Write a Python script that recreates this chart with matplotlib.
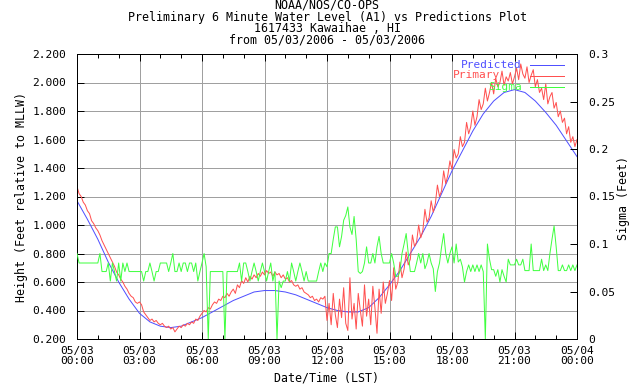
import matplotlib
matplotlib.use("Agg")
import matplotlib.pyplot as plt
import matplotlib.dates as mdates
from matplotlib.lines import Line2D
import numpy as np
import pandas as pd

# === Data ===
start = "2006-05-03 00:00"

# predicted tide, every 30 minutes (feet, MLLW)
predicted = [1.17, 1.04, 0.90, 0.74, 0.60, 0.48, 0.38, 0.32, 0.29, 0.28,
             0.29, 0.32, 0.35, 0.39, 0.43, 0.47, 0.50, 0.53, 0.54, 0.54,
             0.53, 0.51, 0.48, 0.45, 0.42, 0.40, 0.39, 0.39, 0.42, 0.49,
             0.58, 0.68, 0.80, 0.92, 1.06, 1.22, 1.38, 1.52, 1.66, 1.78,
             1.87, 1.93, 1.95, 1.93, 1.87, 1.79, 1.70, 1.59, 1.48]

# preliminary 6 minute water level (A1), one row per hour
primary = [
    1.27, 1.22, 1.20, 1.16, 1.14, 1.10, 1.08, 1.03, 1.01, 0.98,
    0.96, 0.93, 0.89, 0.86, 0.83, 0.80, 0.77, 0.74, 0.71, 0.67,
    0.65, 0.62, 0.60, 0.57, 0.55, 0.52, 0.50, 0.49, 0.46, 0.45,
    0.46, 0.44, 0.39, 0.37, 0.35, 0.33, 0.34, 0.32, 0.33, 0.31,
    0.30, 0.31, 0.29, 0.28, 0.29, 0.27, 0.28, 0.25, 0.27, 0.29,
    0.28, 0.30, 0.29, 0.31, 0.30, 0.32, 0.31, 0.34, 0.33, 0.36,
    0.38, 0.40, 0.39, 0.42, 0.41, 0.44, 0.46, 0.45, 0.48, 0.47,
    0.50, 0.49, 0.52, 0.50, 0.53, 0.55, 0.52, 0.58, 0.56, 0.61,
    0.59, 0.63, 0.60, 0.64, 0.62, 0.65, 0.63, 0.66, 0.64, 0.67,
    0.65, 0.68, 0.66, 0.67, 0.64, 0.67, 0.65, 0.66, 0.63, 0.65,
    0.62, 0.63, 0.60, 0.61, 0.58, 0.57, 0.58, 0.55, 0.56, 0.53,
    0.52, 0.51, 0.49, 0.50, 0.47, 0.48, 0.46, 0.49, 0.48, 0.50,
    0.33, 0.45, 0.30, 0.52, 0.37, 0.28, 0.48, 0.35, 0.56, 0.31,
    0.26, 0.63, 0.34, 0.45, 0.27, 0.52, 0.40, 0.29, 0.58, 0.36,
    0.48, 0.30, 0.57, 0.42, 0.24, 0.55, 0.38, 0.60, 0.45, 0.52,
    0.61, 0.47, 0.70, 0.55, 0.60, 0.74, 0.63, 0.69, 0.81, 0.72,
    0.76, 0.93, 0.85, 0.88, 1.00, 0.91, 0.96, 1.11, 1.02, 1.05,
    1.17, 1.09, 1.15, 1.28, 1.20, 1.24, 1.38, 1.29, 1.35, 1.45,
    1.39, 1.53, 1.47, 1.50, 1.62, 1.55, 1.58, 1.72, 1.64, 1.69,
    1.80, 1.70, 1.76, 1.88, 1.81, 1.85, 1.96, 1.87, 1.93, 2.00,
    1.92, 2.03, 1.97, 2.00, 2.08, 1.98, 2.04, 2.01, 2.07, 1.99,
    2.04, 2.10, 2.02, 2.13, 2.06, 2.03, 2.11, 2.00, 2.05, 2.09,
    1.97, 2.02, 1.93, 1.96, 1.88, 1.99, 1.85, 1.90, 1.93, 1.82,
    1.86, 1.76, 1.80, 1.72, 1.75, 1.64, 1.69, 1.58, 1.62, 1.55,
    1.60]

# sigma of the 6 minute samples (feet), one row per hour
sigma = [
    0.090, 0.080, 0.080, 0.080, 0.080, 0.080, 0.080, 0.080, 0.080, 0.080,
    0.080, 0.090, 0.071, 0.071, 0.071, 0.080, 0.061, 0.080, 0.071, 0.061,
    0.080, 0.061, 0.080, 0.071, 0.080, 0.071, 0.071, 0.071, 0.071, 0.071,
    0.071, 0.071, 0.061, 0.071, 0.071, 0.080, 0.071, 0.061, 0.071, 0.071,
    0.080, 0.080, 0.080, 0.080, 0.071, 0.080, 0.090, 0.071, 0.071, 0.080,
    0.071, 0.080, 0.080, 0.071, 0.080, 0.080, 0.071, 0.080, 0.061, 0.071,
    0.080, 0.090, 0.076, 0.000, 0.071, 0.071, 0.071, 0.071, 0.071, 0.071,
    0.071, 0.000, 0.071, 0.071, 0.071, 0.071, 0.071, 0.071, 0.080, 0.061,
    0.080, 0.080, 0.071, 0.061, 0.071, 0.080, 0.071, 0.061, 0.071, 0.080,
    0.071, 0.061, 0.071, 0.080, 0.061, 0.071, 0.000, 0.061, 0.054, 0.061,
    0.061, 0.071, 0.061, 0.080, 0.071, 0.061, 0.071, 0.080, 0.071, 0.061,
    0.071, 0.061, 0.061, 0.061, 0.061, 0.061, 0.071, 0.080, 0.071, 0.080,
    0.076, 0.090, 0.090, 0.105, 0.118, 0.118, 0.097, 0.108, 0.125, 0.130,
    0.139, 0.118, 0.110, 0.129, 0.105, 0.071, 0.069, 0.071, 0.080, 0.097,
    0.080, 0.080, 0.090, 0.080, 0.097, 0.108, 0.090, 0.080, 0.080, 0.080,
    0.080, 0.090, 0.080, 0.066, 0.066, 0.071, 0.090, 0.100, 0.111, 0.090,
    0.071, 0.071, 0.071, 0.080, 0.090, 0.080, 0.090, 0.074, 0.080, 0.090,
    0.080, 0.074, 0.050, 0.071, 0.080, 0.097, 0.111, 0.090, 0.080, 0.090,
    0.097, 0.080, 0.100, 0.081, 0.084, 0.076, 0.060, 0.071, 0.078, 0.071,
    0.078, 0.071, 0.078, 0.071, 0.078, 0.071, 0.000, 0.100, 0.084, 0.073,
    0.073, 0.066, 0.073, 0.060, 0.073, 0.066, 0.060, 0.084, 0.078, 0.078,
    0.078, 0.084, 0.078, 0.078, 0.084, 0.072, 0.072, 0.072, 0.100, 0.072,
    0.072, 0.072, 0.072, 0.084, 0.072, 0.078, 0.072, 0.090, 0.105, 0.119,
    0.097, 0.072, 0.072, 0.078, 0.072, 0.072, 0.078, 0.072, 0.078, 0.072,
    0.078]

title_lines = ["NOAA/NOS/CO-OPS",
               "Preliminary 6 Minute Water Level (A1) vs Predictions Plot",
               "1617433 Kawaihae , HI",
               "from 05/03/2006 - 05/03/2006"]

t6 = pd.date_range(start, periods=len(primary), freq="6min")
t30 = pd.date_range(start, periods=len(predicted), freq="30min")
xticks = pd.date_range(start, periods=9, freq="3h")
xticklabels = [t.strftime("%m/%d\n%H:%M") for t in xticks]

# === Style ===
FONT = "DejaVu Sans Mono"
FS = 8.4
TICK_FS = 8.1
plt.rcParams["font.family"] = FONT
plt.rcParams["font.size"] = FS

W, H = 640, 384
blue, red, green = "#5050ff", "#ff5050", "#40ff40"
px = 72.0 / 100  # one pixel in points

fig = plt.figure(figsize=(W / 100, H / 100), dpi=100)
ax = fig.add_axes([77 / W, 45 / H, 500 / W, 285 / H])
ax2 = ax.twinx()

ax.plot(t30, predicted, color=blue, lw=px, zorder=3)
ax.plot(t6, primary, color=red, lw=px, zorder=4)
ax2.plot(t6, sigma, color=green, lw=px, zorder=3)

ax.set_xlim(pd.Timestamp(start), pd.Timestamp("2006-05-04 00:00"))
ax.set_ylim(0.2, 2.2)
ax2.set_ylim(0, 0.3)

ax.set_xticks(xticks)
ax.set_xticklabels(xticklabels, linespacing=1.0)
ax.xaxis.set_minor_locator(mdates.HourLocator())
ax.set_yticks(np.arange(0.2, 2.21, 0.2))
ax.yaxis.set_major_formatter(plt.FuncFormatter(lambda v, p: f"{v:.3f}"))
ax2.set_yticks(np.arange(0, 0.301, 0.05))
ax2.yaxis.set_major_formatter(plt.FuncFormatter(lambda v, p: f"{v:g}"))

ax.grid(True, color="#a0a0a0", lw=px, zorder=0)
ax.set_axisbelow(True)

ax.tick_params(axis="x", which="major", direction="in", length=5, width=px,
               top=True, pad=5, labelsize=TICK_FS)
ax.tick_params(axis="x", which="minor", direction="in", length=3, width=px,
               top=True)
ax.tick_params(axis="y", which="major", direction="in", length=5, width=px,
               right=False, pad=8, labelsize=TICK_FS)
ax2.tick_params(axis="y", direction="in", length=5, width=px, pad=8,
                labelsize=TICK_FS)
for a in (ax, ax2):
    for s in a.spines.values():
        s.set_linewidth(px)
        s.set_color("black")

# titles and axis labels
for i, line in enumerate(title_lines):
    fig.text(327 / W, 1 - (5.5 + 11.5 * i) / H, line, ha="center", va="center")
fig.text(22 / W, 1 - 197 / H, "Height (Feet relative to MLLW)", rotation=90,
         ha="center", va="center")
fig.text(623 / W, 1 - 198 / H, "Sigma (Feet)", rotation=90,
         ha="center", va="center")
fig.text(327 / W, 1 - 378 / H, "Date/Time (LST)", ha="center", va="center")

# key, gnuplot style
key = [("Predicted", blue, 64.5, "right", 522),
       ("Primary", red, 75.5, "left", 453),
       ("Sigma", green, 86.5, "right", 522)]
for label, col, yk, ha, xk in key:
    fig.text(xk / W, 1 - yk / H, label, color=col, ha=ha, va="center",
             fontsize=8.0, zorder=10)
    fig.add_artist(Line2D([530 / W, 564 / W], [1 - yk / H, 1 - yk / H],
                          color=col, lw=px, zorder=10))

fig.savefig("out.png", dpi=100)
